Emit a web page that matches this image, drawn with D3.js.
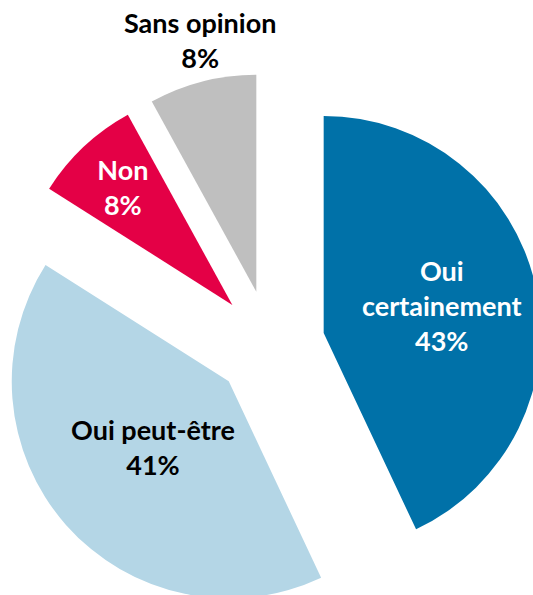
<!DOCTYPE html>
<html>
<head>
<meta charset="utf-8">
<script src="https://cdn.jsdelivr.net/npm/d3@7"></script>
<style>
  body { margin: 0; background: #fff; }
  text { font-family: Lato, "Open Sans", sans-serif; font-weight: bold; }
</style>
</head>
<body>
<script>
// chart data
const categories = ["Oui certainement", "Oui peut-être", "Non", "Sans opinion"];
const labelLines = [["Oui", "certainement"], ["Oui peut-être"], ["Non"], ["Sans opinion"]];
const values = [43, 41, 8, 8];
const colors = ["#0071A8", "#B4D6E6", "#E40046", "#BFBFBF"];
const labelColors = ["#fff", "#000", "#fff", "#000"];

// layout
const width = 533;
const height = 595;
const cx = 270, cy = 345;
const radius = 217;
const explode = 55;
// distance of each label from the slice apex, plus a small sideways nudge
const labelDist = [121, 101, 160, 258];
const labelNudge = [0, 0, 0, 8];
const lineH = 35;

let svg = d3.select("body")
    .append("svg")
    .attr("width", width)
    .attr("height", height);

const pie = d3.pie().sort(null).value(d => d);
const arcs = pie(values);

const arc = d3.arc()
    .innerRadius(0)
    .outerRadius(radius);

let g = svg.append("g")
    .attr("transform", "translate(" + cx + "," + cy + ")");

// direction of the slice bisector
function dir(d) {
    const a = (d.startAngle + d.endAngle) / 2;
    return [Math.sin(a), -Math.cos(a)];
}

g.selectAll("path")
    .data(arcs)
    .enter()
    .append("path")
    .attr("d", arc)
    .attr("fill", (d, i) => colors[i])
    .attr("transform", d => {
        const u = dir(d);
        return "translate(" + (u[0] * explode) + "," + (u[1] * explode) + ")";
    });

// data labels
arcs.forEach((d, i) => {
    const u = dir(d);
    const r = explode + labelDist[i];
    const x = u[0] * r + labelNudge[i], y = u[1] * r;
    const lines = labelLines[i].concat([values[i] + "%"]);
    const top = y - (lines.length - 1) * lineH / 2;
    const t = g.append("text")
        .attr("text-anchor", "middle")
        .attr("fill", labelColors[i])
        .style("font-size", "27px");
    lines.forEach((s, j) => {
        t.append("tspan")
            .attr("x", x)
            .attr("y", top + j * lineH + 9)
            .text(s);
    });
});
</script>
</body>
</html>
